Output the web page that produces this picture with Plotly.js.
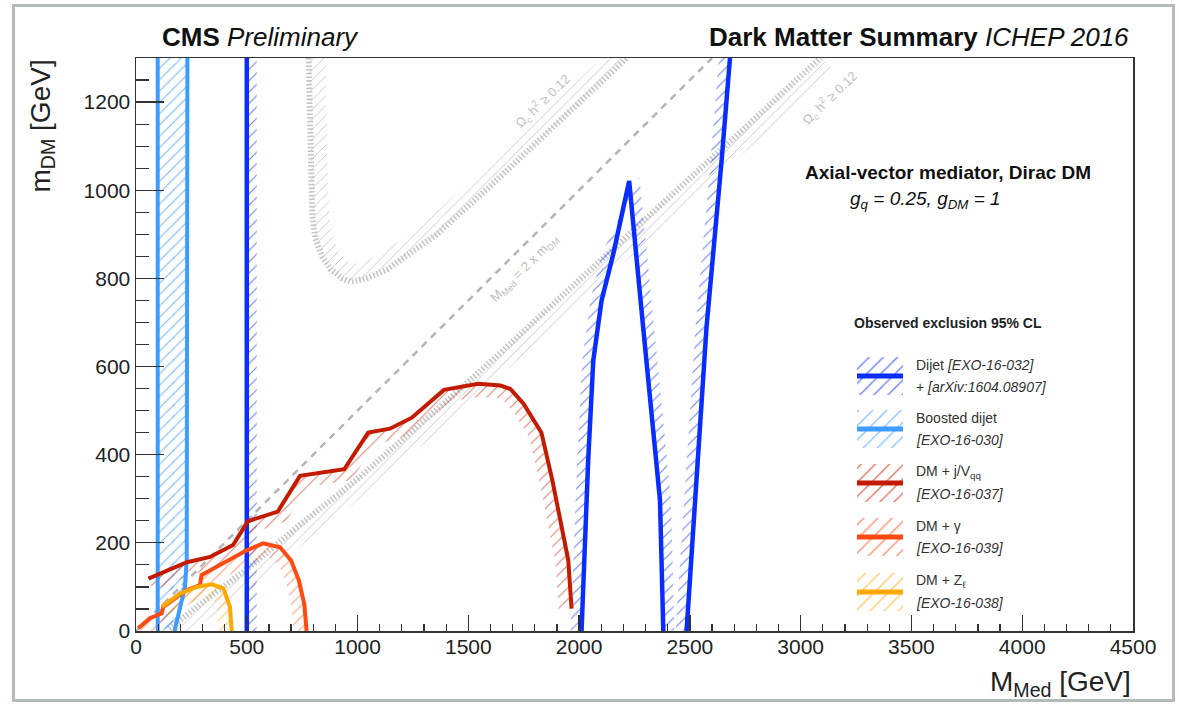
<!DOCTYPE html>
<html><head><meta charset="utf-8">
<script src="https://cdn.plot.ly/plotly-3.0.1.min.js"></script>
<style>
html,body{margin:0;padding:0;background:#fff;}
#chart{width:1179px;height:705px;position:absolute;left:0;top:0;}
#frame{position:absolute;left:12px;top:4px;width:1157px;height:692px;border:3px solid #b3bcb8;pointer-events:none;}
</style></head><body>
<div id="chart"></div><div id="frame"></div>
<script>
// ---------------- data (GeV) ----------------
const dijetLowX = [500, 500];
const dijetLowY = [1300, 0];
const dijetSpikeX = [2011, 2041, 2064, 2101, 2154, 2226, 2289, 2365, 2380];
const dijetSpikeY = [0, 387, 614, 749, 855, 1021, 689, 297, 0];
const dijetHighX = [2485, 2575, 2643, 2681];
const dijetHighY = [0, 689, 1066, 1300];

const boostedLeftX = [98, 98];
const boostedLeftY = [1300, 0];
const boostedRightX = [174, 199, 221, 229, 232];
const boostedRightY = [0, 55, 100, 161, 1300];

const jvX = [56, 230, 334, 438, 505, 640, 740, 940, 1048, 1146, 1245, 1390, 1545, 1645, 1690, 1750, 1830, 1880, 1951, 1966];
const jvY = [119, 156, 168, 195, 249, 271, 352, 367, 450, 459, 484, 547, 561, 557, 549, 515, 450, 340, 161, 51];

const gammaX = [10, 63, 116, 123, 229, 289, 296, 364, 424, 500, 574, 650, 700, 735, 760, 770];
const gammaY = [6, 29, 40, 55, 93, 104, 127, 146, 161, 183, 199, 190, 160, 115, 60, 0];

const zlX = [116, 199, 274, 342, 394, 424, 432];
const zlY = [55, 85, 100, 106, 97, 55, 0];

const relicUX = [779, 782, 785, 790, 796, 810, 840, 880, 930, 970, 1040, 1133, 1250, 1358, 1600, 1913, 2215];
const relicUY = [1300, 1200, 1100, 1000, 940, 890, 850, 820, 800, 792, 800, 820, 860, 900, 1010, 1157, 1300];
const relicLX = [150, 300, 500, 750, 1000, 1250, 1500, 1750, 2000, 2250, 2500, 2750, 3000, 3090];
const relicLY = [5, 65, 140, 245, 345, 455, 565, 680, 795, 910, 1025, 1140, 1255, 1300];

const diagX = [0, 2600];
const diagY = [0, 1300];

const xTicks = [0, 500, 1000, 1500, 2000, 2500, 3000, 3500, 4000, 4500];
const yTicks = [0, 200, 400, 600, 800, 1000, 1200];

const legendNames = ['Dijet <i>[EXO-16-032]</i>', 'Boosted dijet', 'DM + j/V<sub>qq</sub>', 'DM + γ', 'DM + Z<sub>ℓ</sub>'];
const legendRefs = ['+ <i>[arXiv:1604.08907]</i>', '<i>[EXO-16-030]</i>', '<i>[EXO-16-037]</i>', '<i>[EXO-16-039]</i>', '<i>[EXO-16-038]</i>'];
const legendColors = ['#0a2dff', '#3c9cff', '#c41a00', '#ff4a12', '#ffa800'];

// ---------------- geometry ----------------
const W = 1179, H = 705;
const M = {l: 136, r: 46, t: 58, b: 74};
const XR = [0, 4500], YR = [0, 1300];
const PW = W - M.l - M.r, PH = H - M.t - M.b;
const kx = PW / (XR[1] - XR[0]), ky = PH / (YR[1] - YR[0]);
const C = {dijet: legendColors[0], boosted: legendColors[1], jv: legendColors[2], gamma: legendColors[3], zl: legendColors[4]};

// offset band (in screen pixels) on one side of a polyline, returned in data units
function band(xs, ys, side, w) {
  const px = xs.map(x => x * kx), py = ys.map(y => y * ky);
  const n = xs.length, ox = [], oy = [];
  for (let i = 0; i < n; i++) {
    const a = Math.max(0, i - 1), b = Math.min(n - 1, i + 1);
    let tx = px[b] - px[a], ty = py[b] - py[a];
    const L = Math.hypot(tx, ty) || 1; tx /= L; ty /= L;
    const nx = -ty * side, ny = tx * side;
    ox.push((px[i] + nx * w) / kx); oy.push((py[i] + ny * w) / ky);
  }
  return {x: xs.concat(ox.reverse()), y: ys.concat(oy.reverse())};
}
function hatch(b, color, opac, size, xa, ya) {
  return {x: b.x, y: b.y, type: 'scatter', mode: 'lines', fill: 'toself',
    xaxis: xa || 'x', yaxis: ya || 'y',
    line: {width: 0, color: color}, fillcolor: 'rgba(0,0,0,0)',
    fillpattern: {shape: '/', fgcolor: color, bgcolor: 'rgba(0,0,0,0)', size: size || 8, solidity: 0.14, fgopacity: opac},
    hoverinfo: 'skip', showlegend: false};
}
function line(xs, ys, color, width, dash) {
  return {x: xs, y: ys, type: 'scatter', mode: 'lines', line: {color: color, width: width, dash: dash || 'solid'},
    hoverinfo: 'skip', showlegend: false};
}

const traces = [];
// relic hatches and lines (gray)
const gray = '#c3c3c3';
traces.push(hatch(band(relicUX, relicUY, 1, 17), '#bdbdbd', 0.8, 7));
traces.push(hatch(band(relicLX, relicLY, -1, 17), '#bdbdbd', 0.8, 7));
traces.push(line(relicUX, relicUY, gray, 6, '1.5px,2.2px'));
traces.push(line(relicLX, relicLY, gray, 6, '1.5px,2.2px'));
traces.push(line(diagX, diagY, '#b5b5b5', 2.5, '7px,6px'));

// exclusion hatches
traces.push(hatch(band(boostedLeftX, boostedLeftY, 1, 16), C.boosted, 0.7));
traces.push(hatch(band(boostedRightX, boostedRightY, 1, 14), C.boosted, 0.7));
traces.push(hatch(band(dijetLowX, dijetLowY, 1, 10), C.dijet, 0.6));
traces.push(hatch(band(dijetSpikeX, dijetSpikeY, 1, 11), C.dijet, 0.6));
traces.push(hatch(band(dijetHighX, dijetHighY, 1, 11), C.dijet, 0.6));
traces.push(hatch(band(jvX, jvY, -1, 13), C.jv, 0.55));
traces.push(hatch(band(gammaX, gammaY, -1, 13), C.gamma, 0.55));
traces.push(hatch(band(zlX, zlY, -1, 13), C.zl, 0.6));

// exclusion lines
traces.push(line(boostedLeftX, boostedLeftY, C.boosted, 4));
traces.push(line(boostedRightX, boostedRightY, C.boosted, 4));
traces.push(line(dijetLowX, dijetLowY, C.dijet, 4.5));
traces.push(line(dijetSpikeX, dijetSpikeY, C.dijet, 4.5));
traces.push(line(dijetHighX, dijetHighY, C.dijet, 4.5));
traces.push(line(jvX, jvY, C.jv, 4));
traces.push(line(gammaX, gammaY, C.gamma, 4));
traces.push(line(zlX, zlY, C.zl, 4));

// legend (drawn on page-pixel overlay axes)
const legY = [376, 429, 483, 537, 592];
const annotations = [];
const P = (px, py) => ({x: (px - M.l) / PW, y: (H - M.b - py) / PH});
legendColors.forEach((c, i) => {
  const cy = legY[i];
  traces.push(hatch({x: [857, 903, 903, 857], y: [cy - 19, cy - 19, cy + 19, cy + 19]}, c, 0.6, 10, 'x2', 'y2'));
  const t = line([857, 903], [cy, cy], c, 5); t.xaxis = 'x2'; t.yaxis = 'y2'; traces.push(t);
  const p1 = P(914, cy - 11), p2 = P(914, cy + 11);
  annotations.push({xref: 'paper', yref: 'paper', x: p1.x, y: p1.y, xanchor: 'left', yanchor: 'middle', showarrow: false,
    text: legendNames[i], font: {size: 14, color: '#333'}});
  annotations.push({xref: 'paper', yref: 'paper', x: p2.x, y: p2.y, xanchor: 'left', yanchor: 'middle', showarrow: false,
    text: legendRefs[i], font: {size: 14, color: '#333'}});
});

function txt(px, py, text, size, xanchor, extra) {
  const p = P(px, py);
  return Object.assign({xref: 'paper', yref: 'paper', x: p.x, y: p.y, xanchor: xanchor, yanchor: 'middle',
    showarrow: false, text: text, font: {size: size, color: '#111'}}, extra || {});
}
annotations.push(txt(160, 37, '<b>CMS</b> <i>Preliminary</i>', 26, 'left'));
annotations.push(txt(1131, 37, '<b>Dark Matter Summary</b> <i>ICHEP 2016</i>', 26, 'right'));
annotations.push(txt(1093, 172, '<b>Axial-vector mediator, Dirac DM</b>', 19, 'right'));
annotations.push(txt(848, 200, '<i>g<sub>q</sub> = 0.25, g<sub>DM</sub> = 1</i>', 19, 'left'));
annotations.push(txt(852, 323, '<b>Observed exclusion 95% CL</b>', 14, 'left', {font: {size: 14, color: '#222'}}));
annotations.push(txt(1133, 683, 'M<sub>Med</sub> [GeV]', 28, 'right', {font: {size: 28, color: '#222'}}));
annotations.push(Object.assign(txt(42, 58, 'm<sub>DM</sub> [GeV]', 28, 'center', {font: {size: 28, color: '#222'}}), {textangle: -90, yanchor: 'top'}));
// relic / diagonal labels (data coordinates)
const lblFont = {size: 13, color: '#c0c0c0'};
annotations.push({x: 1837, y: 1202, xref: 'x', yref: 'y', text: 'Ω<sub>c</sub> h<sup>2</sup> ≥ 0.12', textangle: -44, showarrow: false, font: lblFont});
annotations.push({x: 3132, y: 1209, xref: 'x', yref: 'y', text: 'Ω<sub>c</sub> h<sup>2</sup> ≥ 0.12', textangle: -44, showarrow: false, font: lblFont});
annotations.push({x: 1755, y: 822, xref: 'x', yref: 'y', text: 'M<sub>Med</sub> = 2 x m<sub>DM</sub>', textangle: -45, showarrow: false, font: lblFont});

const axCommon = {showgrid: false, zeroline: false, showline: true, mirror: true, linecolor: '#333', linewidth: 1.5,
  ticks: 'inside', tickcolor: '#333', tickwidth: 1.3, tickfont: {size: 21, color: '#222'}, fixedrange: true};
const layout = {
  width: W, height: H, margin: M, paper_bgcolor: '#fff', plot_bgcolor: '#fff', showlegend: false,
  font: {family: 'Liberation Sans, Arial, sans-serif'},
  xaxis: Object.assign({}, axCommon, {range: XR, tickvals: xTicks, ticktext: xTicks.map(String), ticklen: 16,
    ticklabelstandoff: -4,
    minor: {dtick: 100, tick0: 0, ticks: 'inside', ticklen: 7, tickcolor: '#333', tickwidth: 1.2}}),
  yaxis: Object.assign({}, axCommon, {range: YR, tickvals: yTicks, ticktext: yTicks.map(String), ticklen: 28,
    minor: {dtick: 50, tick0: 0, ticks: 'inside', ticklen: 13, tickcolor: '#333', tickwidth: 1.2}}),
  xaxis2: {overlaying: 'x', range: [M.l, W - M.r], visible: false, fixedrange: true},
  yaxis2: {overlaying: 'y', range: [H - M.b, M.t], visible: false, fixedrange: true},
  annotations: annotations
};
Plotly.newPlot('chart', traces, layout, {displayModeBar: false, staticPlot: true});
</script>
</body></html>
